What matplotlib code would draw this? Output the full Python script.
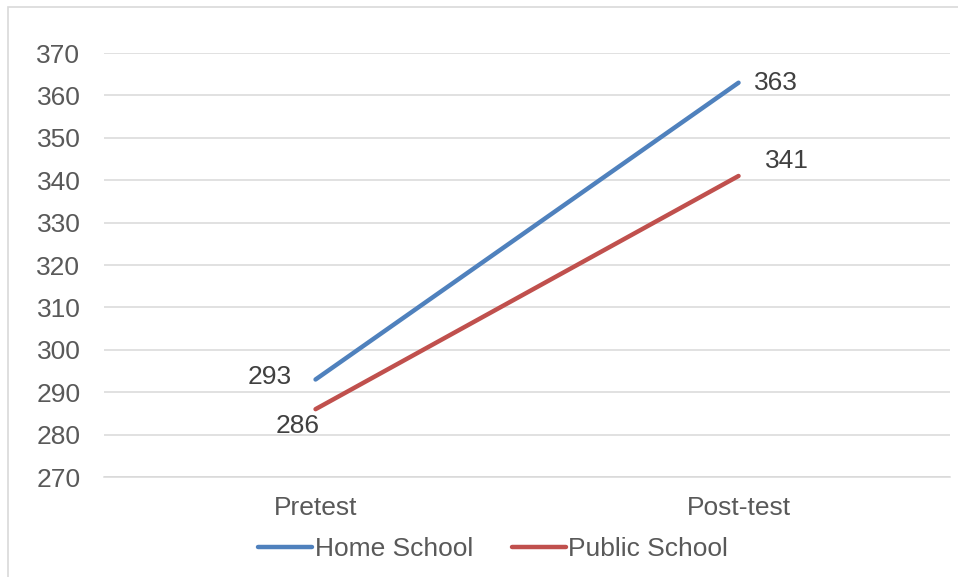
import matplotlib.pyplot as plt
from matplotlib.patches import Rectangle

plt.rcParams['font.family'] = ['Liberation Sans', 'DejaVu Sans']

# data
categories = ['Pretest', 'Post-test']
home_school = [293, 363]
public_school = [286, 341]
y_ticks = list(range(270, 371, 10))

blue = '#4F81BD'
red = '#C0504D'
fs = 19

fig = plt.figure(figsize=(9.58, 5.77), dpi=100)
ax = fig.add_axes([0.1086, 0.1733, 0.8831, 0.7348])

x = list(range(len(categories)))
ax.plot(x, home_school, color=blue, lw=3.2, solid_capstyle='round', label='Home School')
ax.plot(x, public_school, color=red, lw=3.2, solid_capstyle='round', label='Public School')

ax.set_xlim(-0.5, 1.5)
ax.set_ylim(270, 370)
ax.set_yticks(y_ticks)
ax.set_xticks(x)
ax.set_xticklabels(categories)
ax.tick_params(axis='both', length=0, labelsize=fs, colors='#595959')
ax.tick_params(axis='y', pad=17)
ax.tick_params(axis='x', pad=14)
ax.grid(axis='y', color='#D9D9D9', lw=1.1)
ax.set_axisbelow(True)
for s in ['top', 'right', 'left']:
    ax.spines[s].set_visible(False)
ax.spines['bottom'].set_color('#D9D9D9')
ax.spines['bottom'].set_linewidth(1.1)

# data labels
lab = dict(fontsize=fs, color='#404040')
ax.annotate(str(home_school[0]), (x[0], home_school[0]), xytext=(-17, 1.5),
            textcoords='offset points', ha='right', va='center', **lab)
ax.annotate(str(public_school[0]), (x[0], public_school[0]), xytext=(-13, -12),
            textcoords='offset points', ha='center', va='center', **lab)
ax.annotate(str(home_school[1]), (x[1], home_school[1]), xytext=(11, 0),
            textcoords='offset points', ha='left', va='center', **lab)
ax.annotate(str(public_school[1]), (x[1], public_school[1]), xytext=(19, 10.5),
            textcoords='offset points', ha='left', va='center', **lab)

leg = ax.legend(loc='center', bbox_to_anchor=(0.46, -0.17), ncol=2, frameon=False,
                fontsize=fs, handlelength=2.05, handletextpad=0.1, columnspacing=1.45)
for t in leg.get_texts():
    t.set_color('#595959')

# outer chart border
fig.patches.append(Rectangle((0.0084, -0.05), 1.2, 0.988 + 0.05, transform=fig.transFigure,
                             fill=False, edgecolor='#D9D9D9', lw=1.2))

fig.savefig('out.png', dpi=100, facecolor='white')
